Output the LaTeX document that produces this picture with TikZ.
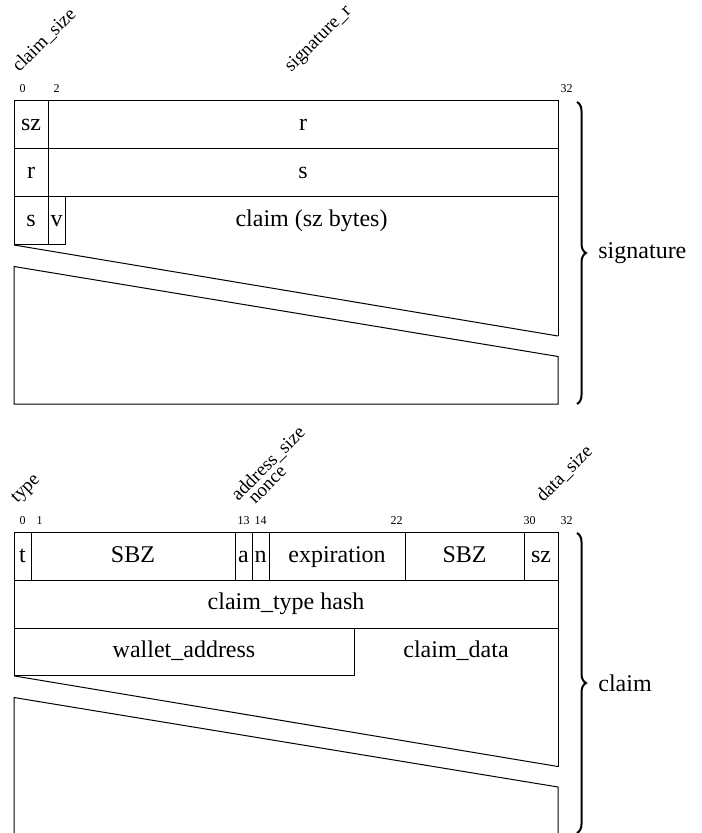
\documentclass[tikz,border=0pt]{standalone}
\usepackage{fontspec}
\setmainfont{Liberation Serif}
\usetikzlibrary{decorations.pathreplacing}
\begin{document}
\begin{tikzpicture}[x=0.5pt,y=-0.5pt,
  fld/.style={line width=0.5pt},
  lbl/.style={font=\fontsize{12}{14}\selectfont, inner sep=0pt, anchor=center, text height=1.5ex, text depth=.25ex},
  bitnum/.style={font=\fontsize{6}{7}\selectfont, inner sep=0pt, anchor=center},
  rot/.style={font=\fontsize{9.5}{11}\selectfont, inner sep=0pt, anchor=base west, rotate=45},
  brc/.style={decorate, decoration={brace, amplitude=4.5pt}, line width=1pt},
  side/.style={font=\fontsize{12}{14}\selectfont, anchor=west, inner sep=0pt}]
\useasboundingbox (0,0) rectangle (701,833);

% ---------------- signature ----------------
\node[rot] (lclaimsize) at (19,73) {claim\_size};
\node[rot] (lsigr) at (291,73) {signature\_r};
\node[bitnum] (s0) at (22.5,88.5) {0};
\node[bitnum] (s2) at (56.5,88.5) {2};
\node[bitnum] (s32) at (566.5,88.5) {32};

\draw[fld] (14,245) -- (14,101) -- (558,101) -- (558,336);
\draw[fld] (14,149) -- (558,149);
\draw[fld] (14,197) -- (558,197);
\draw[fld] (48,101) -- (48,245);
\draw[fld] (65,197) -- (65,245);
\draw[fld] (14,245) -- (65,245);
\draw[fld] (14,245) -- (558,336);
\draw[fld] (558,356.5) -- (14,266.5) -- (14,404) -- (558,404) -- cycle;

\node[lbl] (sz1) at (31,125) {sz};
\node[lbl] (r1) at (303,125) {r};
\node[lbl] (r2) at (31,173) {r};
\node[lbl] (s2f) at (303,173) {s};
\node[lbl] (s3) at (31,221) {s};
\node[lbl] (v3) at (56.5,221) {v};
\node[lbl] (claim3) at (311.5,221) {claim (sz bytes)};

\draw[brc] (577,102) -- (577,404);
\node[side] (sig) at (598,253) {signature};

% ---------------- claim ----------------
\node[rot] (ltype) at (17,504) {type};
\node[rot] (laddr) at (238,502) {address\_size};
\node[rot] (lnonce) at (255,505) {nonce};
\node[rot] (ldata) at (543,503) {data\_size};
\node[bitnum] (c0) at (22.5,521) {0};
\node[bitnum] (c1) at (39.5,521) {1};
\node[bitnum] (c13) at (243.5,521) {13};
\node[bitnum] (c14) at (260.5,521) {14};
\node[bitnum] (c22) at (396.5,521) {22};
\node[bitnum] (c30) at (529.5,521) {30};
\node[bitnum] (c32) at (566.5,521) {32};

\draw[fld] (14,675.9) -- (14,532.5) -- (558,532.5) -- (558,766.5);
\foreach \xx in {31,235,252,269,405,524}
  \draw[fld] (\xx,532.5) -- (\xx,580.3);
\draw[fld] (14,580.3) -- (558,580.3);
\draw[fld] (14,628.1) -- (558,628.1);
\draw[fld] (14,675.9) -- (354,675.9) -- (354,628.1);
\draw[fld] (14,675.9) -- (558,766.5);
\draw[fld] (558,787) -- (14,697.5) -- (14,836) -- (558,836) -- cycle;

\node[lbl] (ft) at (22.5,556.4) {t};
\node[lbl] (fsbz1) at (133,556.4) {SBZ};
\node[lbl] (fa) at (243.5,556.4) {a};
\node[lbl] (fn) at (260.5,556.4) {n};
\node[lbl] (fexp) at (337,556.4) {expiration};
\node[lbl] (fsbz2) at (464.5,556.4) {SBZ};
\node[lbl] (fsz) at (541,556.4) {sz};
\node[lbl] (fhash) at (286,604.2) {claim\_type hash};
\node[lbl] (fwallet) at (184,652) {wallet\_address};
\node[lbl] (fdata) at (456,652) {claim\_data};

\draw[brc] (577,533) -- (577,833);
\node[side] (clm) at (598,683) {claim};
\end{tikzpicture}
\end{document}
